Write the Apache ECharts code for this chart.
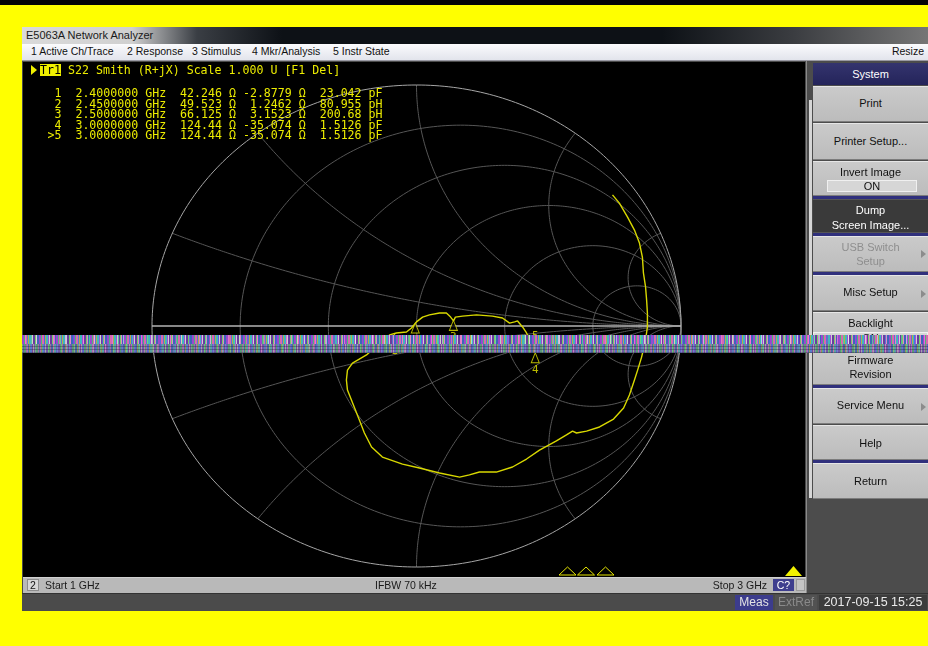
<!DOCTYPE html>
<html><head><meta charset="utf-8">
<script src="https://cdn.jsdelivr.net/npm/echarts/dist/echarts.min.js"></script>
<style>
html,body{margin:0;padding:0;}
body{width:928px;height:646px;background:#ffff00;position:relative;overflow:hidden;font-family:"Liberation Sans",Arial,sans-serif;}
.a{position:absolute;}
.topstrip{left:0;top:0;width:928px;height:5px;background:#050505;}
.win{left:22px;top:27px;width:906px;height:583px;background:#4a4a4a;}
.title{left:22px;top:27px;width:906px;height:17px;background:linear-gradient(90deg,#dadada 0px,#d0d0d0 110px,#3a3e44 175px,#0d1116 260px,#0d1116 640px,#3a3c40 770px,#767676 906px);}
.title span{position:absolute;left:4px;top:2px;font-size:11px;color:#1a1a1a;}
.menu{left:22px;top:44px;width:906px;height:16px;background:linear-gradient(#fbfbfd,#e2e4ec);border-bottom:1px solid #9a9aa4;}
.mi{position:absolute;top:1px;font-size:10.5px;color:#111;white-space:nowrap;}
.disp{left:23px;top:62px;width:782px;height:515px;background:#000;}
#chart{position:absolute;left:23px;top:62px;width:782px;height:515px;}
.mono{font-family:"DejaVu Sans Mono",monospace;font-size:11.6px;color:#ecec00;white-space:pre;line-height:10.4px;}
.tr1{left:40px;top:64px;background:#f0f000;color:#000;font-family:"DejaVu Sans Mono",monospace;font-size:11.6px;line-height:12px;height:12px;white-space:pre;}
.arrow{left:31px;top:65px;width:0;height:0;border-top:5px solid transparent;border-bottom:5px solid transparent;border-left:6px solid #f0f000;}
.status{left:23px;top:577px;width:783px;height:15px;background:#b9b9b9;border-top:1px solid #d0d0d0;}
.st{position:absolute;font-size:10.5px;color:#1a1a1a;white-space:nowrap;top:579px;}
.bottom{left:22px;top:593px;width:906px;height:17px;background:#4b4b4b;border-top:1px solid #333;}
.panel{left:806px;top:61px;width:122px;height:532px;background:#4c4c4c;border-left:1px solid #8a8a8a;}
.scroll{left:809px;top:100px;width:3px;height:398px;background:#d6d6d6;}
.btn{position:absolute;left:813px;width:115px;background:linear-gradient(#cacaca,#bcbcbc);border-top:1px solid #e6e6e6;border-bottom:1px solid #7c7c7c;box-sizing:border-box;font-size:11px;color:#111;text-align:center;}
.btn div{position:absolute;left:0;width:100%;}
.sep{position:absolute;left:813px;width:115px;height:3px;background:#30307c;}
.onbox{position:absolute;left:14px;width:90px;height:12px;background:#d6d6d6;border:1px solid #f0f0f0;box-sizing:border-box;line-height:11px;}
.sub{position:absolute;right:2px;width:0;height:0;border-top:4px solid transparent;border-bottom:4px solid transparent;border-left:5px solid #8c8c8c;}
.band{left:22px;top:335px;width:906px;height:9px;background:
 repeating-linear-gradient(90deg,transparent 0 3px,rgba(255,110,220,.8) 3px 4px,transparent 4px 9px,rgba(80,230,140,.75) 9px 10px,transparent 10px 14px,rgba(240,240,240,.6) 14px 15px,transparent 15px 22px,rgba(80,90,240,.75) 22px 23px,transparent 23px 29px),
 repeating-linear-gradient(90deg,#9a48d0 0 2px,#4cb878 2px 3px,#d868b0 3px 5px,#5c70d8 5px 6px,#b0b048 6px 7px,#40b8bc 7px 9px,#a050d8 9px 10px,#d0d0d0 10px 11px,#6a3ca0 11px 13px,#70d068 13px 14px,#e088c8 14px 15px,#3c68b8 15px 17px);z-index:10;}
.band2{left:22px;top:344px;width:906px;height:9px;background:
 repeating-linear-gradient(0deg,rgba(20,20,40,.3) 0 1px,transparent 1px 3px),
 repeating-linear-gradient(90deg,rgba(120,210,120,.65) 0 1px,transparent 1px 5px,rgba(220,110,200,.65) 5px 6px,transparent 6px 8px,rgba(90,110,220,.65) 8px 10px,transparent 10px 13px),
 repeating-linear-gradient(90deg,#725aa6 0 2px,#5a9a7a 2px 4px,#a46aa4 4px 5px,#4a6aa6 5px 7px,#94945a 7px 8px,#5aa2a2 8px 10px,#8048a0 10px 11px,#a4a4aa 11px 12px);z-index:10;}
</style></head><body>
<div class="a topstrip"></div>
<div class="a win"></div>
<div class="a title"><span>E5063A Network Analyzer</span></div>
<div class="a menu">
 <span class="mi" style="left:9px">1 Active Ch/Trace</span>
 <span class="mi" style="left:105px">2 Response</span>
 <span class="mi" style="left:170px">3 Stimulus</span>
 <span class="mi" style="left:230px">4 Mkr/Analysis</span>
 <span class="mi" style="left:311px">5 Instr State</span>
 <span class="mi" style="right:4px">Resize</span>
</div>
<div class="a disp"></div>
<div id="chart"></div>
<div class="a arrow"></div>
<div class="a tr1">Tr1</div>
<div class="a mono" id="hdr" style="left:68px;top:65px;"></div>
<div class="a mono" id="mk" style="left:40.5px;top:88.3px;"></div>
<svg class="a" style="left:0;top:0;" width="928" height="646">
 <polygon points="559,575 567.5,567 576,575" fill="none" stroke="#e6e600" stroke-width="1"/>
 <polygon points="577.5,575 586,567 594.5,575" fill="none" stroke="#e6e600" stroke-width="1"/>
 <polygon points="597,575 605.5,567 614,575" fill="none" stroke="#e6e600" stroke-width="1"/>
 <polygon points="785,576 793.5,566 802,576" fill="#f2f200"/>
</svg>
<div class="a status"></div>
<div class="a" style="left:27px;top:579px;width:12px;height:12px;background:#d6d6d6;border:1px solid #8c8c8c;box-sizing:border-box;font-size:10.5px;text-align:center;line-height:11px;color:#111;">2</div>
<span class="st" style="left:45px">Start 1 GHz</span>
<span class="st" style="left:375px">IFBW 70 kHz</span>
<span class="st" style="right:161px">Stop 3 GHz</span>
<div class="a" style="left:773px;top:579px;width:21px;height:12px;background:#3e3e8e;color:#fff;font-size:10.5px;text-align:center;line-height:12px;">C?</div>
<div class="a" style="left:796px;top:579px;width:9px;height:12px;background:#c4c4c4;border:1px solid #9a9a9a;box-sizing:border-box;"></div>
<div class="a bottom"></div>
<div class="a" style="left:735px;top:595px;width:38px;height:15px;background:#3c3c8c;color:#e4e4e4;font-size:12px;text-align:center;line-height:15px;">Meas</div>
<div class="a" style="left:775px;top:595px;width:42px;height:15px;background:#525252;color:#8a8a8a;font-size:12px;text-align:center;line-height:15px;">ExtRef</div>
<div class="a" style="left:819px;top:595px;width:108px;height:15px;background:#3c3c3c;color:#eaeaea;font-size:12.5px;text-align:center;line-height:15px;">2017-09-15 15:25</div>
<div class="a panel"></div>
<div class="a scroll"></div>
<div class="a" style="left:813px;top:63px;width:115px;height:22px;background:linear-gradient(#34346e,#24245a);color:#fff;font-size:11px;text-align:center;line-height:22px;">System</div>
<div class="btn" style="top:86px;height:36px;"><div style="top:10px">Print</div></div>
<div class="btn" style="top:123px;height:37px;"><div style="top:11px">Printer Setup...</div></div>
<div class="btn" style="top:161px;height:35px;"><div style="top:4px">Invert Image</div><div class="onbox" style="top:18px;left:14px;width:90px;">ON</div></div>
<div class="sep" style="top:196px;"></div>
<div class="btn" style="top:199px;height:34px;background:#3a3a3a;color:#fff;border-color:#555;"><div style="top:4px">Dump</div><div style="top:19px">Screen Image...</div></div>
<div class="sep" style="top:233px;"></div>
<div class="btn" style="top:236px;height:36px;color:#8e8e8e;"><div style="top:4px">USB Switch</div><div style="top:18px">Setup</div><span class="sub" style="top:13px"></span></div>
<div class="sep" style="top:272px;"></div>
<div class="btn" style="top:275px;height:36px;"><div style="top:10px">Misc Setup</div><span class="sub" style="top:14px"></span></div>
<div class="btn" style="top:312px;height:36px;"><div style="top:4px">Backlight</div><div class="onbox" style="top:19px;">ON</div></div>
<div class="btn" style="top:349px;height:36px;"><div style="top:4px">Firmware</div><div style="top:18px">Revision</div></div>
<div class="sep" style="top:385px;"></div>
<div class="btn" style="top:388px;height:36px;"><div style="top:10px">Service Menu</div><span class="sub" style="top:14px"></span></div>
<div class="btn" style="top:425px;height:35px;"><div style="top:11px">Help</div></div>
<div class="sep" style="top:460px;"></div>
<div class="btn" style="top:463px;height:36px;"><div style="top:11px">Return</div></div>
<div class="a band"></div>
<div class="a band2"></div>
<script>
// ---- Data ----
const traceName = 'S22';
const traceRe = [0.741,0.767,0.798,0.824,0.843,0.854,0.858,0.866,0.870,0.873,0.873,0.866,0.851,0.836,0.824,0.805,0.783,0.745,0.692,0.643,0.605,0.590,0.567,0.529,0.465,0.416,0.363,0.302,0.238,0.234,0.200,0.163,0.087,0.011,-0.053,-0.129,-0.170,-0.197,-0.216,-0.234,-0.246,-0.261,-0.265,-0.261,-0.242,-0.189,-0.147,-0.102,-0.076,-0.038,-0.019,0.000,0.023,0.049,0.087,0.113,0.129,0.140,0.147,0.174,0.227,0.287,0.325,0.352,0.371,0.382,0.401,0.416,0.435,0.449];
const traceIm = [0.544,0.510,0.452,0.398,0.344,0.286,0.220,0.162,0.108,0.054,-0.004,-0.058,-0.129,-0.183,-0.224,-0.286,-0.340,-0.386,-0.419,-0.436,-0.444,-0.436,-0.452,-0.477,-0.515,-0.552,-0.585,-0.606,-0.606,-0.598,-0.618,-0.627,-0.610,-0.589,-0.573,-0.544,-0.502,-0.444,-0.390,-0.340,-0.307,-0.266,-0.224,-0.183,-0.154,-0.120,-0.079,-0.037,-0.029,-0.025,-0.008,0.017,0.037,0.046,0.054,0.054,0.037,0.021,0.037,0.041,0.046,0.041,0.033,0.012,0.017,0.021,-0.004,-0.029,-0.071,-0.111];
const markerNames = ['1','2','3','4','5'];
const markerFreqGHz = [2.4,2.45,2.5,3.0,3.0];
const markerR = [42.246,49.523,66.125,124.44,124.44];
const markerX = [-2.8779,1.2462,3.1523,-35.074,-35.074];
const markerLC = [23.042,80.955,200.68,1.5126,1.5126];
const markerLCUnit = ['pF','pH','pH','pF','pF'];
const activeMarker = 4;
const z0 = 50;
const gridR = [0.2,0.5,1,2,5];
const gridX = [0.2,0.5,1,2,5,-0.2,-0.5,-1,-2,-5];

// ---- Header and marker table text ----
document.getElementById('hdr').textContent = traceName + ' Smith (R+jX) Scale 1.000 U [F1 Del]';
const rows = markerNames.map((n,i)=>{
  const lab = (i===activeMarker?'>':' ') + n;
  return ' ' + lab + '  ' + markerFreqGHz[i].toFixed(7) + ' GHz  ' +
    markerR[i].toPrecision(5).padStart(6) + ' Ω ' + markerX[i].toPrecision(5).padStart(7) + ' Ω  ' +
    markerLC[i].toPrecision(5).padStart(6) + ' ' + markerLCUnit[i];
});
document.getElementById('mk').textContent = rows.join('\n');

// ---- Smith chart ----
function gamma(r,x){const den=(r+1)*(r+1)+x*x;return [(r*r-1+x*x)/den,2*x/den];}
const series = [];
const gridColor = '#565656';
gridR.forEach(r=>{
  const pts=[];const c=r/(1+r),rad=1/(1+r);
  for(let k=0;k<=360;k++){const t=k*Math.PI/180;pts.push([c+rad*Math.cos(t),rad*Math.sin(t)]);}
  series.push({type:'line',data:pts,symbol:'none',silent:true,clip:false,lineStyle:{color:gridColor,width:1},z:1});
});
gridX.forEach(x=>{
  const pts=[];
  for(let k=0;k<=300;k++){const t=k/300*Math.PI/2;const r=k===300?1e9:Math.tan(t);pts.push(gamma(r,x));}
  series.push({type:'line',data:pts,symbol:'none',silent:true,clip:false,lineStyle:{color:gridColor,width:1},z:1});
});
// outer circle
(function(){const pts=[];for(let k=0;k<=360;k++){const t=k*Math.PI/180;pts.push([Math.cos(t),Math.sin(t)]);}
series.push({type:'line',data:pts,symbol:'none',silent:true,clip:false,lineStyle:{color:'#a6a6a6',width:1},z:2});})();
series.push({type:'line',data:[[-1,0],[1,0]],symbol:'none',silent:true,clip:false,lineStyle:{color:'#b4b4b4',width:1.5},z:2});
// trace
series.push({type:'line',data:traceRe.map((v,i)=>[v,traceIm[i]]),symbol:'none',clip:false,lineStyle:{color:'#d8d800',width:1.4},z:5});
// markers from impedance
const mkPts = markerNames.map((n,i)=>gamma(markerR[i]/z0,markerX[i]/z0));
series.push({type:'scatter',clip:false,z:6,
  data:mkPts.map((p,i)=>i===activeMarker?null:{value:p,name:markerNames[i]}).filter(d=>d),
  symbol:'triangle',symbolSize:[8,10],symbolOffset:[0,5],
  itemStyle:{color:'#000',borderColor:'#e6e600',borderWidth:1},
  label:{show:true,position:'bottom',distance:1,formatter:p=>p.name,color:'#e6e600',fontFamily:'DejaVu Sans Mono',fontSize:11}});
series.push({type:'scatter',clip:false,z:6,
  data:[{value:mkPts[activeMarker],name:markerNames[activeMarker]}],
  symbol:'path://M0,0 L10,0 L5,12 Z',symbolSize:[8,10],symbolOffset:[0,-5],
  itemStyle:{color:'#e6e600'},
  label:{show:true,position:'top',distance:1,formatter:p=>p.name,color:'#e6e600',fontFamily:'DejaVu Sans Mono',fontSize:11}});

const chart = echarts.init(document.getElementById('chart'),null,{renderer:'canvas'});
chart.setOption({
  backgroundColor:'#000',
  animation:false,
  grid:{left:129,top:23,width:529,height:482},
  xAxis:{type:'value',min:-1,max:1,show:false},
  yAxis:{type:'value',min:-1,max:1,show:false},
  series:series
});
</script>
</body></html>
